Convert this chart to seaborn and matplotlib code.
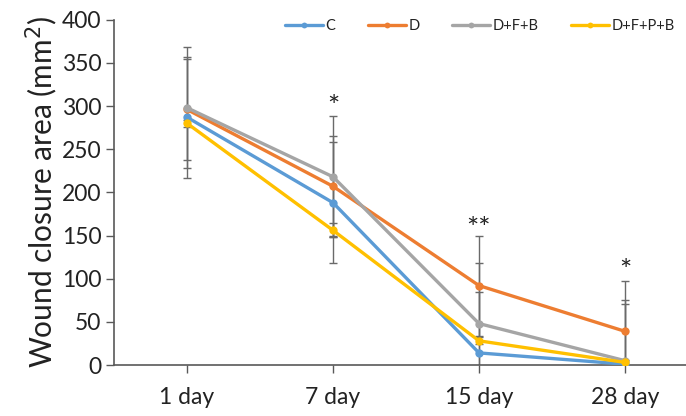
import numpy as np
import pandas as pd
import seaborn as sns
import matplotlib.pyplot as plt

days = ["1 day", "7 day", "15 day", "28 day"]
groups = ["C", "D", "D+F+B", "D+F+P+B"]
area_c = [287, 188, 14, 1]
area_d = [296, 207, 92, 39]
area_dfb = [298, 218, 48, 5]
area_dfpb = [280, 156, 28, 3]
err_c = [70, 70, 70, 70]
err_d = [58, 58, 58, 58]
err_dfb = [70, 70, 70, 70]
err_dfpb = [4, 8, 4, 3]
stars = ["", "*", "**", "*"]
star_y = [0, 298, 156, 108]

colors = ["#5B9BD5", "#ED7D31", "#A5A5A5", "#FFC000"]

sns.set_style("white")
plt.rcParams['font.family'] = ['Lato', 'DejaVu Sans']

df = pd.DataFrame({
    "day": days * 4,
    "area": area_c + area_d + area_dfb + area_dfpb,
    "err": err_c + err_d + err_dfb + err_dfpb,
    "group": np.repeat(groups, 4),
})

fig = plt.figure(figsize=(6.86, 4.16), dpi=100)
ax = fig.add_axes([114 / 686, 51 / 416, 584 / 686, 345.3 / 416])

# error bars first, behind the lines
for g in groups:
    sub = df[df.group == g]
    ax.errorbar(np.arange(len(days)), sub.area, yerr=sub.err, fmt="none",
                ecolor="#6a6a6a", elinewidth=1, capsize=3, capthick=1, zorder=1)

sns.lineplot(data=df, x="day", y="area", hue="group", palette=colors,
             marker="o", markersize=6, markeredgewidth=0, linewidth=2.4,
             ax=ax, zorder=3)

for i, s in enumerate(stars):
    if s:
        ax.text(i, star_y[i], s, ha="center", va="center", fontsize=21,
                color="#222222")

ax.set_xlim(-0.5, 3.5)
ax.set_ylim(0, 400)
ax.set_yticks(range(0, 401, 50))
ax.set_xlabel("")
ax.set_ylabel("Wound closure area (mm$^2$)", fontsize=21.5, labelpad=1,
              color="#222222")
ax.tick_params(axis="both", labelsize=16.5, length=6, width=1, color="#595959",
               labelcolor="#222222", direction="out", bottom=True, left=True)
ax.tick_params(axis="x", pad=10)
ax.tick_params(axis="y", pad=3)
for side in ["top", "right"]:
    ax.spines[side].set_visible(False)
for side in ["left", "bottom"]:
    ax.spines[side].set_color("#595959")
    ax.spines[side].set_linewidth(1.2)

leg = ax.legend(loc="upper left", bbox_to_anchor=(0.27, 1.04), ncol=4, frameon=False,
                fontsize=10.5, handlelength=2.6, columnspacing=2.2, handletextpad=0.2,
                markerscale=0.7)
for t in leg.get_texts():
    t.set_color("#222222")

fig.savefig("out.png", dpi=100)
